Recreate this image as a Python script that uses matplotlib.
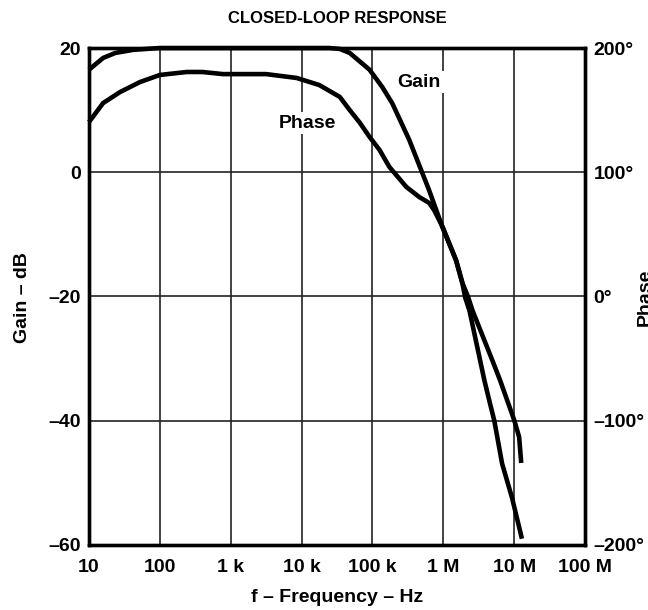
import matplotlib
matplotlib.use('Agg')
import matplotlib.pyplot as plt
import numpy as np

plt.rcParams['font.family'] = ['Liberation Sans', 'DejaVu Sans']
plt.rcParams['font.weight'] = 'bold'

# closed-loop gain, dB vs log10(frequency)
gain_logf = [1.00, 1.20, 1.37, 1.62, 2.00, 3.30, 4.39, 4.54, 4.68, 4.96, 5.14, 5.28,
             5.52, 5.80, 5.99, 6.18, 6.27, 6.31, 6.37, 6.58, 6.65, 6.72, 6.83, 6.97, 7.11]
gain_db = [16.5, 18.4, 19.2, 19.7, 20.0, 20.0, 20.0, 19.85, 19.2, 16.5, 13.7, 11.1,
           5.2, -2.9, -8.9, -14.2, -17.9, -20.2, -22.3, -33.5, -36.8, -40.0, -46.9, -52.4, -59.0]

# closed-loop phase, degrees
phase_logf = [1.00, 1.20, 1.44, 1.72, 2.00, 2.38, 2.60, 2.89, 3.08, 3.50, 3.93, 4.25,
              4.54, 4.68, 4.82, 4.96, 5.10, 5.24, 5.48, 5.66, 5.80, 5.87, 5.99, 6.18,
              6.27, 6.35, 6.41, 6.69, 6.80, 7.00, 7.07, 7.10]
phase_deg = [140.4, 155.7, 164.6, 172.6, 178.3, 180.7, 180.7, 179.0, 179.0, 179.0, 175.9, 170.2,
             160.6, 150.0, 140.0, 128.4, 118.0, 104.2, 88.1, 80.1, 75.3, 69.6, 56.0, 29.4,
             10.9, -0.4, -10.9, -51.1, -67.2, -99.4, -113.0, -134.0]

freq_ticks = [10, 100, 1e3, 1e4, 1e5, 1e6, 1e7, 1e8]
freq_labels = ['10', '100', '1 k', '10 k', '100 k', '1 M', '10 M', '100 M']
gain_ticks = [-60, -40, -20, 0, 20]
gain_labels = ['\u201360', '\u201340', '\u201320', '0', '20']
phase_ticks = [-200, -100, 0, 100, 200]
phase_labels = ['\u2013200\u00b0', '\u2013100\u00b0', '0\u00b0', '100\u00b0', '200\u00b0']

gain_f = 10 ** np.array(gain_logf)
phase_f = 10 ** np.array(phase_logf)

fig = plt.figure(figsize=(6.48, 6.10), dpi=100)
ax = fig.add_axes([0.1373, 0.1066, 0.9028 - 0.1373, 0.9213 - 0.1066])
ax2 = ax.twinx()

ax.set_xscale('log')
ax.set_xlim(10, 1e8)
ax.set_ylim(-60, 20)
ax2.set_ylim(-200, 200)

for f in freq_ticks[1:-1]:
    ax.axvline(f, color='#222222', lw=1.2, zorder=1)
for g in gain_ticks[1:-1]:
    ax.axhline(g, color='#222222', lw=1.2, zorder=1)

ax.plot(gain_f, gain_db, color='black', lw=3.3, solid_capstyle='butt', zorder=3, clip_on=False)
ax2.plot(phase_f, phase_deg, color='black', lw=3.3, solid_capstyle='butt', zorder=3, clip_on=False)

ax.set_xticks(freq_ticks)
ax.set_xticklabels(freq_labels)
ax.minorticks_off()
ax.set_yticks(gain_ticks)
ax.set_yticklabels(gain_labels)
ax2.set_yticks(phase_ticks)
ax2.set_yticklabels(phase_labels)

ax.tick_params(axis='x', length=0, labelsize=14, pad=10)
ax.tick_params(axis='y', length=0, labelsize=14, pad=6)
ax2.tick_params(length=0, labelsize=14, pad=6)

for a in (ax, ax2):
    for s in a.spines.values():
        s.set_linewidth(2.4)
        s.set_color('black')

ax.text(4.6e5, 14.5, 'Gain', fontsize=14, ha='center', va='center', zorder=4,
        bbox=dict(facecolor='white', edgecolor='none', pad=2))
ax.text(1.2e4, 7.9, 'Phase', fontsize=14, ha='center', va='center', zorder=4,
        bbox=dict(facecolor='white', edgecolor='none', pad=2))

fig.text(0.52, 0.970, 'CLOSED-LOOP RESPONSE', fontsize=12, ha='center', va='center')
fig.text(0.034, 0.513, 'Gain \u2013 dB', fontsize=14, rotation=90, ha='center', va='center')
fig.text(0.52, 0.020, 'f \u2013 Frequency \u2013 Hz', fontsize=14, ha='center', va='center')
fig.text(0.995, 0.513, 'Phase', fontsize=14, rotation=90, ha='center', va='center')

fig.savefig('out.png', dpi=100)
